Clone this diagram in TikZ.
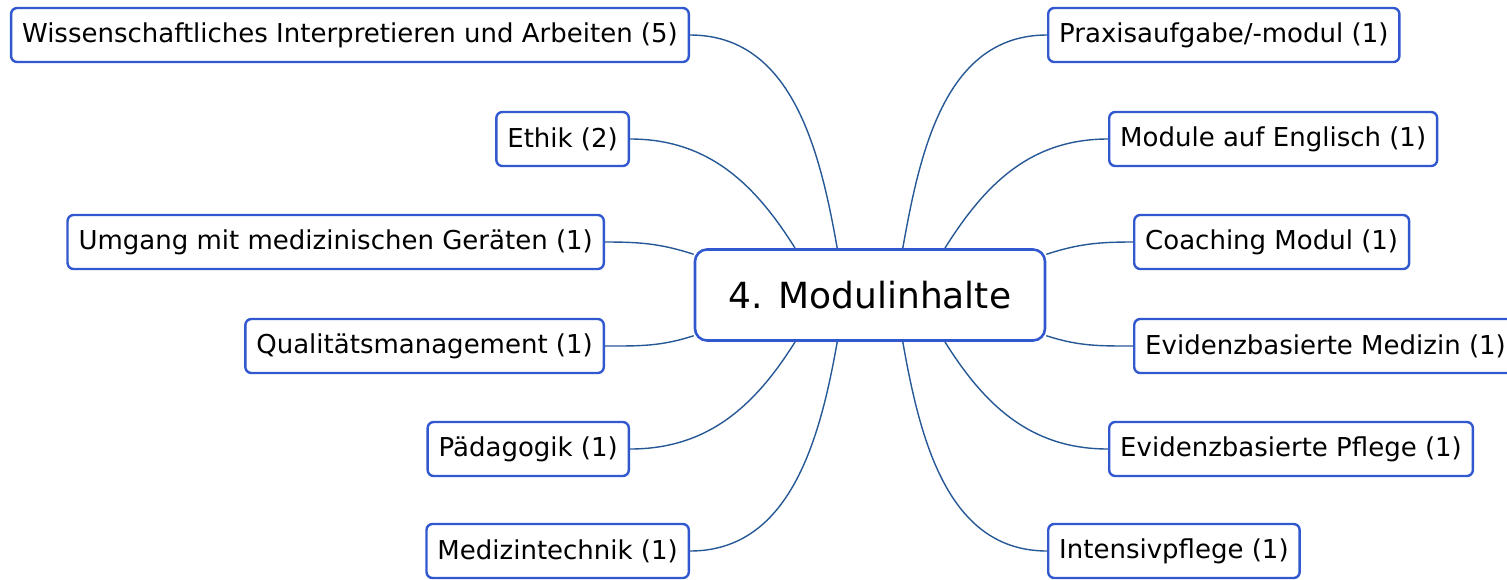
\documentclass[tikz,border=0pt]{standalone}
\usepackage{fontspec}
\setmainfont{DejaVu Sans}
\usepackage{tikz}
\usetikzlibrary{calc}
\usepackage{xcolor}
\definecolor{boxblue}{RGB}{50,88,208}
\definecolor{linkblue}{RGB}{38,88,150}

\begin{document}
\begin{tikzpicture}[x=0.5pt, y=0.5pt]
\tikzstyle{core} = [rectangle, minimum width=175pt, minimum height=45.5pt, text centered, draw=boxblue, line width=1.3pt, rounded corners=6pt, fill=white, font=\fontsize{18}{20}\selectfont]
\tikzstyle{topic} = [rectangle, minimum height=27pt, inner xsep=5.5pt, text centered, draw=boxblue, line width=1.2pt, rounded corners=3pt, fill=white, font=\fontsize{13}{15}\selectfont]
\tikzstyle{link} = [draw=linkblue, line width=0.7pt]

\useasboundingbox (0,0) rectangle (1507,-579);

% Central Node
\node (modul) [core] at (870,-295) {4. Modulinhalte};

% Left Topics
\node (wiss) [topic, anchor=east] at (690,-35) {Wissenschaftliches Interpretieren und Arbeiten (5)};
\node (ethik) [topic, anchor=east] at (630,-139) {Ethik (2)};
\node (geraet) [topic, anchor=east] at (605,-242) {Umgang mit medizinischen Geräten (1)};
\node (quali) [topic, anchor=east] at (605,-346) {Qualitätsmanagement (1)};
\node (paed) [topic, anchor=east] at (630,-449) {Pädagogik (1)};
\node (medtech) [topic, anchor=east] at (690,-551) {Medizintechnik (1)};

% Right Topics
\node (praxis) [topic, anchor=west] at (1047,-35) {Praxisaufgabe/-modul (1)};
\node (english) [topic, anchor=west] at (1108,-139) {Module auf Englisch (1)};
\node (coach) [topic, anchor=west] at (1133,-242) {Coaching Modul (1)};
\node (ebm) [topic, anchor=west] at (1133,-346) {Evidenzbasierte Medizin (1)};
\node (ebp) [topic, anchor=west] at (1108,-449) {Evidenzbasierte Pflege (1)};
\node (intens) [topic, anchor=west] at (1047,-551) {Intensivpflege (1)};

% Left Links
\draw [link] (modul.125) to[out=100, in=0] (wiss.east);
\draw [link] (modul.148) to[out=122, in=0] (ethik.east);
\draw [link] (modul.167) to[out=162, in=0] (geraet.east);
\draw [link] (modul.193) to[out=198, in=0] (quali.east);
\draw [link] (modul.212) to[out=238, in=0] (paed.east);
\draw [link] (modul.235) to[out=260, in=0] (medtech.east);

% Right Links
\draw [link] (modul.55) to[out=80, in=180] (praxis.west);
\draw [link] (modul.32) to[out=58, in=180] (english.west);
\draw [link] (modul.13) to[out=18, in=180] (coach.west);
\draw [link] (modul.-13) to[out=-18, in=180] (ebm.west);
\draw [link] (modul.-32) to[out=-58, in=180] (ebp.west);
\draw [link] (modul.-55) to[out=-80, in=180] (intens.west);

\end{tikzpicture}
\end{document}
